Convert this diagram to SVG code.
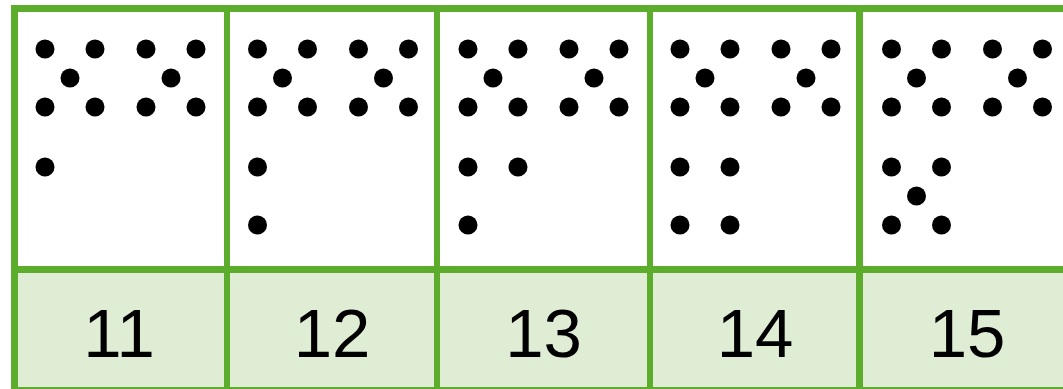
<svg xmlns="http://www.w3.org/2000/svg" xmlns:xlink="http://www.w3.org/1999/xlink" width="1063" height="389" viewBox="0 0 1063 389">
  <style>
    .dot { fill: #000000; }
    .num { font-family: "Liberation Sans", Arial, sans-serif; font-size: 69px; fill: #000000; text-anchor: middle; }
    .grid { stroke: #5BAD2B; fill: none; }
    .band { fill: #DFEDD5; }
  </style>
  <defs>
    <g id="topDots">
      <circle class="dot" cx="0" cy="49" r="9.5"/>
      <circle class="dot" cx="50" cy="49" r="9.5"/>
      <circle class="dot" cx="101" cy="49" r="9.5"/>
      <circle class="dot" cx="151" cy="49" r="9.5"/>
      <circle class="dot" cx="25" cy="78" r="9.5"/>
      <circle class="dot" cx="126" cy="78" r="9.5"/>
      <circle class="dot" cx="0" cy="107" r="9.5"/>
      <circle class="dot" cx="50" cy="107" r="9.5"/>
      <circle class="dot" cx="101" cy="107" r="9.5"/>
      <circle class="dot" cx="151" cy="107" r="9.5"/>
    </g>
  </defs>
  <rect x="0" y="0" width="1063" height="389" fill="#FFFFFF"/>
  <rect class="band" x="14" y="270" width="1049" height="119"/>

  <g id="grid">
    <line class="grid" x1="11" y1="8.5" x2="1063" y2="8.5" stroke-width="7"/>
    <line class="grid" x1="11" y1="269.5" x2="1063" y2="269.5" stroke-width="7"/>
    <line class="grid" x1="11" y1="390.5" x2="1063" y2="390.5" stroke-width="7"/>
    <line class="grid" x1="14.5" y1="5" x2="14.5" y2="389" stroke-width="7"/>
    <line class="grid" x1="227" y1="5" x2="227" y2="389" stroke-width="6"/>
    <line class="grid" x1="437" y1="5" x2="437" y2="389" stroke-width="6"/>
    <line class="grid" x1="650" y1="5" x2="650" y2="389" stroke-width="6"/>
    <line class="grid" x1="859.5" y1="5" x2="859.5" y2="389" stroke-width="7"/>
  </g>

  <g id="col11">
    <use xlink:href="#topDots" href="#topDots" x="45" y="0"/>
    <circle class="dot" cx="45" cy="167" r="9.5"/>
    <text class="num" x="119" y="357">11</text>
  </g>

  <g id="col12">
    <use xlink:href="#topDots" href="#topDots" x="257.5" y="0"/>
    <circle class="dot" cx="257.5" cy="167" r="9.5"/>
    <circle class="dot" cx="257.5" cy="225" r="9.5"/>
    <text class="num" x="332" y="357">12</text>
  </g>

  <g id="col13">
    <use xlink:href="#topDots" href="#topDots" x="468" y="0"/>
    <circle class="dot" cx="468" cy="167" r="9.5"/>
    <circle class="dot" cx="518" cy="167" r="9.5"/>
    <circle class="dot" cx="468" cy="225" r="9.5"/>
    <text class="num" x="543.5" y="357">13</text>
  </g>

  <g id="col14">
    <use xlink:href="#topDots" href="#topDots" x="680" y="0"/>
    <circle class="dot" cx="680" cy="167" r="9.5"/>
    <circle class="dot" cx="730" cy="167" r="9.5"/>
    <circle class="dot" cx="680" cy="225" r="9.5"/>
    <circle class="dot" cx="730" cy="225" r="9.5"/>
    <text class="num" x="755" y="357">14</text>
  </g>

  <g id="col15">
    <use xlink:href="#topDots" href="#topDots" x="891.5" y="0"/>
    <circle class="dot" cx="891.5" cy="167" r="9.5"/>
    <circle class="dot" cx="941.5" cy="167" r="9.5"/>
    <circle class="dot" cx="916.5" cy="196" r="9.5"/>
    <circle class="dot" cx="891.5" cy="225" r="9.5"/>
    <circle class="dot" cx="941.5" cy="225" r="9.5"/>
    <text class="num" x="967" y="357">15</text>
  </g>
</svg>
